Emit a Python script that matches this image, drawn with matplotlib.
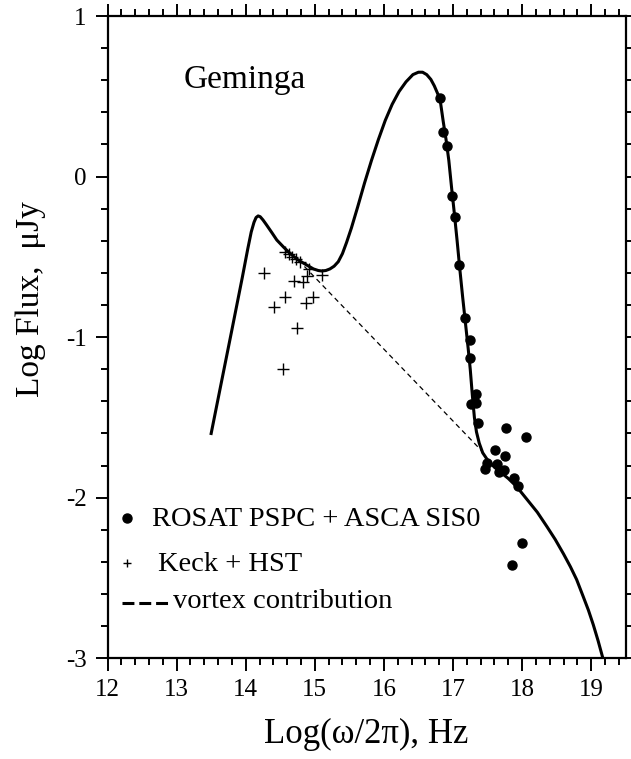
import matplotlib.pyplot as plt
from matplotlib.ticker import MultipleLocator

plt.rcParams['font.family'] = ['Liberation Serif', 'DejaVu Serif']
plt.rcParams['axes.unicode_minus'] = False

# model spectrum (solid curve)
model_x = [13.50, 13.63, 13.80, 13.95, 14.03, 14.08, 14.12, 14.15, 14.18, 14.21,
           14.25, 14.30, 14.38, 14.45, 14.55, 14.64, 14.76, 14.88, 14.98, 15.05,
           15.10, 15.16, 15.22, 15.28, 15.34, 15.40, 15.46, 15.53, 15.62, 15.72,
           15.82, 15.92, 16.02, 16.12, 16.22, 16.32, 16.42, 16.50, 16.56, 16.62,
           16.68, 16.73, 16.78, 16.82, 16.86, 16.90, 16.94, 16.98, 17.02, 17.06,
           17.10, 17.14, 17.18, 17.22, 17.25, 17.28, 17.31, 17.34, 17.38, 17.43,
           17.50, 17.60, 17.70, 17.80, 17.92, 18.07, 18.22, 18.36, 18.48, 18.60,
           18.70, 18.79, 18.88, 18.96, 19.03, 19.10, 19.17]
model_y = [-1.60, -1.32, -0.955, -0.63, -0.45, -0.345, -0.285, -0.255, -0.245, -0.25,
           -0.27, -0.30, -0.35, -0.395, -0.44, -0.478, -0.52, -0.55, -0.575, -0.585,
           -0.588, -0.585, -0.575, -0.558, -0.53, -0.48, -0.41, -0.32, -0.19, -0.04,
           0.10, 0.23, 0.35, 0.45, 0.53, 0.59, 0.635, 0.65, 0.65, 0.635,
           0.605, 0.565, 0.515, 0.46, 0.34, 0.23, 0.10, -0.07, -0.23, -0.40,
           -0.58, -0.75, -0.91, -1.07, -1.20, -1.36, -1.50, -1.59, -1.66, -1.72,
           -1.765, -1.81, -1.845, -1.88, -1.93, -2.01, -2.09, -2.18, -2.26, -2.35,
           -2.43, -2.51, -2.61, -2.70, -2.79, -2.89, -3.00]

# vortex contribution (dashed)
vortex_x = [14.85, 17.42]
vortex_y = [-0.56, -1.71]

# ROSAT PSPC + ASCA SIS0
xray_x = [16.81, 16.85, 16.92, 16.98, 17.03, 17.08, 17.18, 17.24, 17.24, 17.33,
          17.26, 17.34, 17.36, 17.77, 18.06, 17.61, 17.76, 17.49, 17.47, 17.63,
          17.67, 17.74, 17.89, 17.94, 18.00, 17.85]
xray_y = [0.49, 0.28, 0.19, -0.12, -0.25, -0.55, -0.88, -1.02, -1.13, -1.354,
          -1.418, -1.408, -1.536, -1.567, -1.62, -1.70, -1.74, -1.785, -1.82, -1.79,
          -1.84, -1.83, -1.88, -1.93, -2.28, -2.42]

# Keck + HST
opt_x = [14.57, 14.62, 14.67, 14.73, 14.79, 14.91, 15.11, 14.26, 14.70, 14.83,
         14.88, 14.57, 14.41, 14.97, 14.87, 14.74, 14.54]
opt_y = [-0.468, -0.48, -0.50, -0.515, -0.53, -0.577, -0.61, -0.60, -0.65, -0.655,
         -0.62, -0.75, -0.81, -0.75, -0.79, -0.94, -1.20]

fig = plt.figure(figsize=(6.31, 7.59), dpi=100)
ax = fig.add_axes([0.1704, 0.1327, 0.8212, 0.8462])

ax.plot(model_x, model_y, color='black', lw=2.2, solid_joinstyle='round')
ax.plot(vortex_x, vortex_y, color='black', lw=0.9, ls=(0, (4, 3)))
ax.plot(xray_x, xray_y, 'o', color='black', ms=6.5)
ax.plot(opt_x, opt_y, '+', color='black', ms=8, mew=1.0)

ax.set_xlim(12, 19.5)
ax.set_ylim(-3, 1)
ax.xaxis.set_major_locator(MultipleLocator(1))
ax.xaxis.set_minor_locator(MultipleLocator(0.2))
ax.yaxis.set_major_locator(MultipleLocator(1))
ax.yaxis.set_minor_locator(MultipleLocator(0.2))
ax.tick_params(which='both', direction='out', top=True, right=True,
               labeltop=False, labelright=False, width=1.4, labelsize=18)
ax.tick_params(which='major', length=9, pad=6)
ax.tick_params(which='minor', length=5)
for s in ax.spines.values():
    s.set_linewidth(1.6)

ax.set_xlabel('Log(ω/2π), Hz', fontsize=25, labelpad=12)
ax.set_ylabel('Log Flux,  μJy', fontsize=24)
ax.yaxis.set_label_coords(-0.118, 0.56)

ax.text(0.146, 0.900, 'Geminga', transform=ax.transAxes, fontsize=24, va='center')

# legend drawn by hand to keep the original layout
ax.plot([0.0380], [0.218], 'o', color='black', ms=6.5, transform=ax.transAxes)
ax.text(0.086, 0.216, 'ROSAT PSPC + ASCA SIS0', transform=ax.transAxes,
        fontsize=20.5, va='center')
ax.plot([0.0380], [0.148], '+', color='black', ms=6, mew=1.0, transform=ax.transAxes)
ax.text(0.097, 0.146, 'Keck + HST', transform=ax.transAxes, fontsize=20.5, va='center')
ax.plot([0.028, 0.122], [0.0855, 0.0855], color='black', lw=2.2,
        ls=(0, (3.9, 1.6)), transform=ax.transAxes)
ax.text(0.126, 0.088, 'vortex contribution', transform=ax.transAxes,
        fontsize=20.5, va='center')

fig.savefig('out.png', dpi=100)
